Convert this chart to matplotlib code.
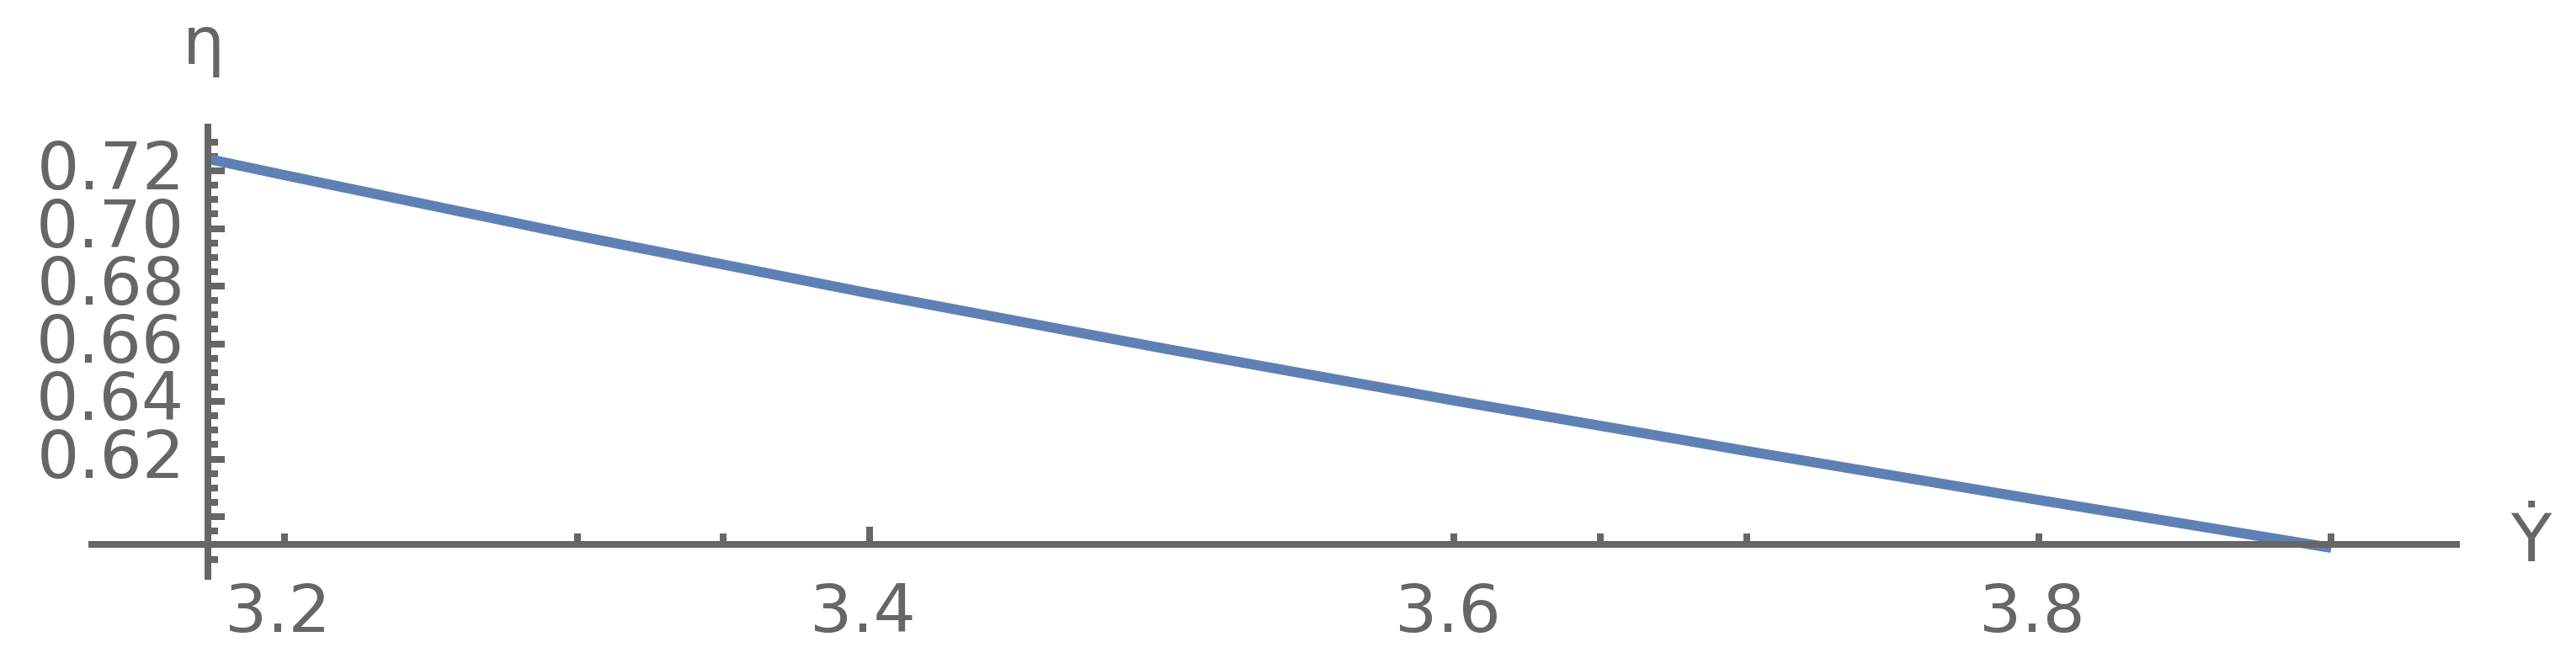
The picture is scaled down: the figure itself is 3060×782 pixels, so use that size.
import matplotlib
matplotlib.use("Agg")
import matplotlib.pyplot as plt
from matplotlib.transforms import ScaledTranslation

# values
ydot = [3.174, 3.2, 3.3, 3.4, 3.5, 3.6, 3.7, 3.8, 3.9]
eta = [0.7241, 0.7185, 0.6975, 0.6775, 0.6585, 0.6403, 0.6228, 0.6058, 0.5892]

x_major = [3.2, 3.4, 3.6, 3.8]
x_minor = [3.3, 3.35, 3.65, 3.7, 3.9]
y_major = [0.60, 0.62, 0.64, 0.66, 0.68, 0.70, 0.72]
y_labels = ["", "0.62", "0.64", "0.66", "0.68", "0.70", "0.72"]
y_minor = [0.585, 0.595, 0.605, 0.61, 0.615, 0.625, 0.63, 0.635, 0.645, 0.65,
           0.655, 0.665, 0.67, 0.675, 0.685, 0.69, 0.695, 0.705, 0.71, 0.715,
           0.725, 0.73]

AX = "#666666"
LINE = "#5E81B5"
PX = 72 / 100  # points per pixel at dpi 100

fig = plt.figure(figsize=(30.6, 7.82), dpi=100)
ax = fig.add_axes([109 / 3060, 97 / 782, 2809 / 3060, 534 / 782])

ax.plot(ydot, eta, color=LINE, lw=12 * PX, solid_capstyle="butt",
        solid_joinstyle="round", clip_on=False)

ax.set_xlim(3.134, 3.9428)
ax.set_ylim(0.5793, 0.7352)

for s in ("top", "right"):
    ax.spines[s].set_visible(False)
ax.spines["left"].set_position(("data", 3.1738))
ax.spines["bottom"].set_position(("data", 0.5904))
for s in ("left", "bottom"):
    ax.spines[s].set_color(AX)
    ax.spines[s].set_linewidth(8 * PX)

ax.set_xticks(x_major)
ax.set_xticklabels([f"{v:.1f}" for v in x_major])
ax.set_xticks(x_minor, minor=True)
ax.set_yticks(y_major)
ax.set_yticklabels(y_labels)
ax.set_yticks(y_minor, minor=True)

ax.tick_params(which="both", direction="in", color=AX, width=8 * PX,
               labelcolor=AX, labelsize=57)
ax.tick_params(axis="x", which="both", length=12.7 * PX, pad=32)
ax.tick_params(axis="y", which="major", length=20 * PX, pad=20)
ax.tick_params(axis="y", which="minor", length=12 * PX)

# only the 3.4 tick is drawn long in the reference
ax.xaxis.get_major_ticks()[1].tick1line.set_markersize(20.7 * PX)

# labels sit a little left / above their ticks in the reference
for lab in ax.get_xticklabels():
    lab.set_transform(lab.get_transform() + ScaledTranslation(-8 / 100, 0, fig.dpi_scale_trans))
for lab in ax.get_yticklabels():
    lab.set_transform(lab.get_transform() + ScaledTranslation(0, 8 / 100, fig.dpi_scale_trans))

fig.text(242 / 3060, 1 - 75.5 / 782, "η", ha="center", va="baseline",
         fontsize=57, color=AX)
fig.text(3006 / 3060, 1 - 667 / 782, "Ẏ", ha="center", va="baseline",
         fontsize=57, color=AX)

fig.savefig("out.png", dpi=100)
